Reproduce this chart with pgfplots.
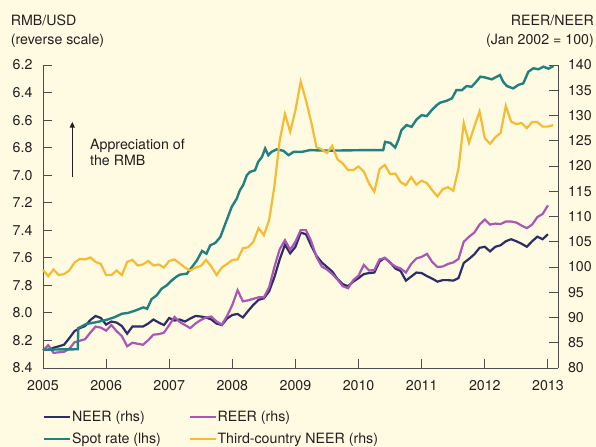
\documentclass[border=0pt]{standalone}
\usepackage{pgfplots}
\pgfplotsset{compat=1.18}
\usepackage{pgfplotstable}
\usetikzlibrary{arrows.meta}
\usepackage{fontspec}
\setmainfont{TeX Gyre Heros}
\definecolor{bg}{HTML}{FEFBE2}
\definecolor{neercol}{HTML}{2D2E68}
\definecolor{reercol}{HTML}{A957B2}
\definecolor{spotcol}{HTML}{228080}
\definecolor{thirdcol}{HTML}{F5BC33}
\definecolor{axc}{HTML}{4D4D4D}
\definecolor{txt}{HTML}{231F20}
\newcommand\fs{\fontsize{14.2bp}{17bp}\selectfont}

\pgfplotstableread{
m third neer reer
0 99.4 83.7 83.5
1 98.2 83.6 84.5
2 99.5 84.0 83.0
3 98.4 84.3 83.1
4 98.6 84.6 83.2
5 99.3 85.9 83.8
6 100.9 87.3 85.1
7 101.6 87.9 85.4
8 101.5 88.3 85.7
9 101.9 89.5 87.0
10 101.0 90.3 88.2
11 100.6 89.9 88.0
12 98.4 88.6 87.4
13 98.4 89.2 88.5
14 99.3 89.0 87.3
15 98.4 88.3 86.3
16 101.0 86.8 84.3
17 101.4 88.2 85.0
18 100.3 88.2 84.8
19 100.5 88.2 84.6
20 101.2 88.8 85.5
21 100.3 89.6 86.6
22 100.5 89.0 86.7
23 99.9 88.5 87.0
24 101.2 89.9 88.5
25 101.5 89.4 90.1
26 100.7 89.6 89.1
27 99.9 89.2 88.5
28 99.3 89.8 87.9
29 99.9 90.3 88.8
30 100.2 90.2 89.5
31 101.4 90.0 90.0
32 100.1 89.6 90.2
33 98.4 88.8 89.2
34 99.9 88.5 88.6
35 100.6 89.8 90.3
36 101.4 90.5 92.5
37 101.5 90.7 95.4
38 103.7 90.0 93.2
39 103.9 91.3 93.4
40 105.0 92.5 93.7
41 107.7 93.5 94.0
42 106.3 93.8 94.0
43 109.3 95.2 96.0
44 116.0 98.0 100.0
45 125.0 101.5 103.5
46 130.3 104.4 105.3
47 126.8 102.7 103.4
48 131.1 104.0 105.0
49 136.7 106.8 107.3
50 133.0 106.5 107.3
51 128.7 104.2 105.1
52 123.7 102.2 102.0
53 123.3 100.9 100.1
54 122.6 100.0 99.5
55 124.0 99.1 98.6
56 121.3 97.6 97.5
57 120.5 96.6 96.2
58 119.2 96.2 95.8
59 119.2 97.1 97.4
60 119.9 97.8 98.3
61 118.9 98.6 100.4
62 116.5 98.8 99.3
63 114.9 98.9 99.4
64 119.4 101.1 101.5
65 120.2 101.8 101.8
66 118.4 100.9 100.8
67 118.5 99.7 100.1
68 116.8 99.2 99.7
69 116.2 97.3 98.9
70 117.8 98.1 100.6
71 116.3 98.9 101.7
72 117.1 98.8 102.0
73 116.6 98.2 102.6
74 115.2 97.7 101.0
75 114.0 97.1 100.0
76 115.4 97.4 100.1
77 115.8 97.4 100.6
78 115.1 97.3 100.9
79 119.5 97.8 101.6
80 128.5 100.8 105.0
81 124.6 101.6 106.0
82 127.8 102.5 106.8
83 130.8 103.8 108.4
84 125.5 104.0 109.4
85 124.4 103.1 108.4
86 125.7 104.0 108.6
87 126.5 104.3 108.5
88 131.9 105.1 109.0
89 128.8 105.5 109.0
90 128.3 105.1 108.8
91 128.5 104.6 108.2
92 127.5 104.0 107.7
93 128.7 105.1 108.4
94 128.7 106.0 109.9
95 127.8 105.5 110.5
96 127.8 106.5 112.2
97 128.1 nan nan
}\monthly

\pgfplotstableread{
t spot
2005.00 8.268
2005.27 8.265
2005.55 8.264
2005.56 8.11
2005.69 8.08
2005.85 8.067
2006.01 8.05
2006.14 8.03
2006.25 8.006
2006.35 8.00
2006.48 7.98
2006.59 7.96
2006.65 7.97
2006.72 7.90
2006.80 7.873
2006.88 7.824
2006.96 7.80
2007.04 7.764
2007.12 7.735
2007.17 7.722
2007.28 7.715
2007.36 7.667
2007.44 7.618
2007.52 7.55
2007.59 7.57
2007.65 7.509
2007.73 7.492
2007.81 7.449
2007.86 7.388
2007.91 7.327
2007.99 7.23
2008.07 7.17
2008.12 7.109
2008.17 7.073
2008.23 7.00
2008.28 6.976
2008.36 6.964
2008.41 6.903
2008.47 6.867
2008.52 6.806
2008.57 6.855
2008.62 6.831
2008.70 6.813
2008.81 6.823
2008.89 6.855
2008.97 6.831
2009.10 6.831
2009.23 6.818
2009.50 6.822
2009.80 6.820
2010.10 6.818
2010.39 6.818
2010.42 6.758
2010.50 6.765
2010.58 6.799
2010.63 6.745
2010.68 6.673
2010.76 6.636
2010.84 6.649
2010.92 6.595
2011.00 6.564
2011.08 6.571
2011.16 6.527
2011.24 6.491
2011.29 6.474
2011.40 6.459
2011.48 6.442
2011.55 6.382
2011.64 6.382
2011.71 6.353
2011.79 6.358
2011.85 6.329
2011.93 6.285
2012.00 6.290
2012.11 6.304
2012.19 6.285
2012.24 6.273
2012.29 6.321
2012.35 6.353
2012.45 6.370
2012.53 6.345
2012.61 6.333
2012.69 6.249
2012.77 6.224
2012.85 6.231
2012.93 6.212
2013.01 6.227
2013.09 6.207
}\spottab

\pgfplotsset{
  common/.style={at={(43bp,79bp)}, anchor=south west, scale only axis,
    width=515bp, height=303bp, xmin=2005, xmax=2013.16, clip=false,
    tick align=inside, major tick length=9bp, minor tick length=5bp,
    tick style={draw=axc, line width=0.9bp},
    axis line style={-, draw=axc, line width=0.9bp},
    tick label style={font=\fs, text=txt},
    /pgf/number format/assume math mode=true},
}

\begin{document}
\begin{tikzpicture}[font=\fs, text=txt]
\fill[bg] (0,0) rectangle (596bp,447bp);
\useasboundingbox (0,0) rectangle (596bp,447bp);

% right axis: NEER, REER
\begin{axis}[common, ymin=80, ymax=140,
  axis x line*=bottom, axis y line*=right,
  xtick={2005,2006,...,2013},
  xticklabels={2005,2006,2007,2008,2009,2010,2011,2012,2013},
  minor x tick num=11,
  xticklabel style={yshift=-9bp},
  ytick={80,85,...,140},
  yticklabel style={xshift=6.5bp}]
\addplot[draw=neercol, line width=2.2bp] table[x expr=2005+\thisrow{m}/12, y=neer]{\monthly};
\addplot[draw=reercol, line width=2.2bp] table[x expr=2005+\thisrow{m}/12, y=reer]{\monthly};
\end{axis}

% left axis: spot rate (reverse scale)
\begin{axis}[common, ymin=6.2, ymax=8.4, y dir=reverse,
  axis x line=none, axis y line*=left,
  ytick={6.2,6.4,6.6,6.8,7.0,7.2,7.4,7.6,7.8,8.0,8.2,8.4},
  yticklabels={6.2,6.4,6.6,6.8,7.0,7.2,7.4,7.6,7.8,8.0,8.2,8.4},
  yticklabel style={xshift=-7bp}]
\addplot[draw=spotcol, line width=2.4bp] table[x=t, y=spot]{\spottab};
\end{axis}

% third-country NEER + legend
\begin{axis}[common, ymin=80, ymax=140, hide axis,
  legend columns=2, legend cell align=left,
  legend style={at={(0,-0.1343)}, anchor=north west, draw=none, fill=none,
    inner sep=0pt, font=\fs, text=txt, row sep=4.6bp,
    nodes={inner sep=1bp, text height=12bp, text depth=3bp},
    /tikz/every even column/.append style={column sep=26.6bp}},
  legend image code/.code={\draw[#1, line width=2bp] (0bp,0bp) -- (26bp,0bp);}]
\addlegendimage{draw=neercol}\addlegendentry{NEER (rhs)}
\addlegendimage{draw=reercol}\addlegendentry{REER (rhs)}
\addlegendimage{draw=spotcol}\addlegendentry{Spot rate (lhs)}
\addplot[draw=thirdcol, line width=2.2bp] table[x expr=2005+\thisrow{m}/12, y=third]{\monthly};
\addlegendentry{Third-country NEER (rhs)}
\end{axis}

% titles
\node[anchor=base west, inner sep=0] at (10.7bp,421bp) {RMB/USD};
\node[anchor=base west, inner sep=0] at (10.7bp,402.7bp) {(reverse scale)};
\node[anchor=base east, inner sep=0] at (594bp,421bp) {REER/NEER};
\node[anchor=base east, inner sep=0] at (594bp,402.7bp) {(Jan 2002 = 100)};

% annotation
\draw[txt, line width=1.4bp, -{Triangle[length=6bp,width=5bp]}] (72.3bp,270bp) -- (72.3bp,325.3bp);
\node[anchor=base west, inner sep=0] at (90bp,297.7bp) {Appreciation of};
\node[anchor=base west, inner sep=0] at (90bp,281bp) {the RMB};
\end{tikzpicture}
\end{document}
